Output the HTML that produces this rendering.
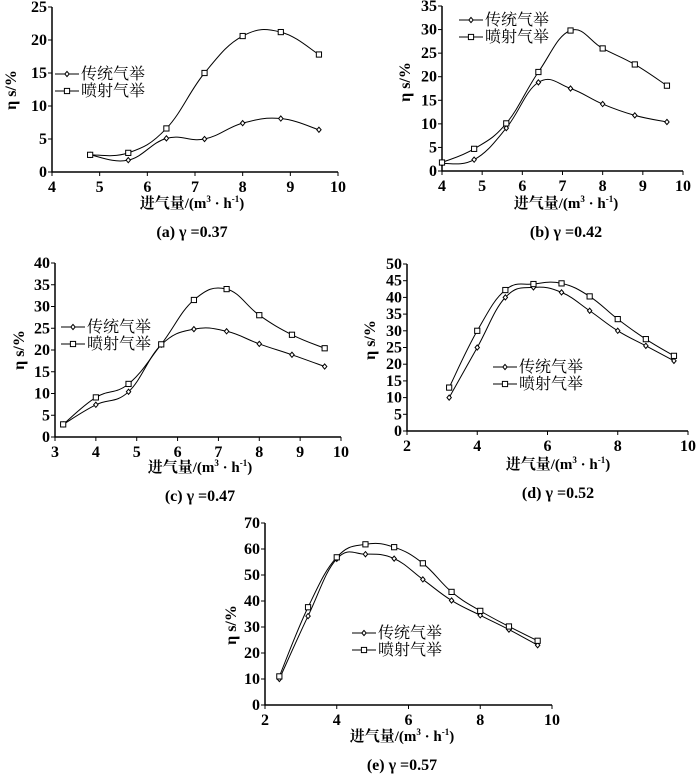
<!DOCTYPE html>
<html><head><meta charset="utf-8">
<style>
html,body{margin:0;padding:0;background:#fff;}
svg{display:block;}
.t{font-family:"Liberation Serif","Noto Serif CJK SC",serif;font-weight:bold;font-size:16px;fill:#000;}
.xt{font-family:"Liberation Serif","Noto Serif CJK SC",serif;font-weight:bold;font-size:15px;fill:#000;}
.lg{font-family:"Liberation Serif","Noto Serif CJK SC","Noto Sans CJK SC",serif;font-size:16px;fill:#000;}
</style></head>
<body>
<svg id="fig" width="700" height="774" viewBox="0 0 700 774" xmlns="http://www.w3.org/2000/svg"></svg>
<script>
// Chart (a)
const aX=[4.8,5.6,6.4,7.2,8,8.8,9.6];
const aTrad=[2.6,1.8,5.1,5.0,7.4,8.1,6.4];
const aJet=[2.6,2.9,6.6,15.0,20.6,21.2,17.8];
const aXTicks=[4,5,6,7,8,9,10];
const aYTicks=[0,5,10,15,20,25];
// Chart (b)
const bX=[4,4.8,5.6,6.4,7.2,8,8.8,9.6];
const bTrad=[1.6,2.4,9.1,18.8,17.5,14.2,11.8,10.4];
const bJet=[1.8,4.7,10.1,21.0,29.8,26.0,22.6,18.1];
const bXTicks=[4,5,6,7,8,9,10];
const bYTicks=[0,5,10,15,20,25,30,35];
// Chart (c)
const cX=[3.2,4,4.8,5.6,6.4,7.2,8,8.8,9.6];
const cTrad=[2.9,7.4,10.4,21.2,24.8,24.3,21.4,18.9,16.2];
const cJet=[2.9,9.1,12.2,21.3,31.5,34.0,28.0,23.5,20.4];
const cXTicks=[3,4,5,6,7,8,9,10];
const cYTicks=[0,5,10,15,20,25,30,35,40];
// Chart (d)
const dX=[3.2,4,4.8,5.6,6.4,7.2,8,8.8,9.6];
const dTrad=[10,25,40,43,41.5,36,30,25.5,21];
const dJet=[13,30,42.2,44,44.2,40.3,33.5,27.5,22.5];
const dXTicks=[2,4,6,8,10];
const dYTicks=[0,5,10,15,20,25,30,35,40,45,50];
// Chart (e)
const eX=[2.4,3.2,4,4.8,5.6,6.4,7.2,8,8.8,9.6];
const eTrad=[10,34.2,56.2,58,56.3,48.3,40.2,34.5,29,23];
const eJet=[11,37.6,56.8,61.8,60.7,54.5,43.5,36.2,30.2,24.7];
const eXTicks=[2,4,6,8,10];
const eYTicks=[0,10,20,30,40,50,60,70];

const NS="http://www.w3.org/2000/svg";
const svg=document.getElementById('fig');
function mk(tag,attrs,parent,text){const e=document.createElementNS(NS,tag);for(const k in attrs)e.setAttribute(k,attrs[k]);if(text!==undefined)e.textContent=text;(parent||svg).appendChild(e);return e;}

function smooth(pts){
  let d=`M${pts[0][0]},${pts[0][1]}`;
  for(let i=0;i<pts.length-1;i++){
    const p0=pts[Math.max(0,i-1)],p1=pts[i],p2=pts[i+1],p3=pts[Math.min(pts.length-1,i+2)];
    const t=0.2;
    const c1=[p1[0]+(p2[0]-p0[0])*t,p1[1]+(p2[1]-p0[1])*t];
    const c2=[p2[0]-(p3[0]-p1[0])*t,p2[1]-(p3[1]-p1[1])*t];
    d+=` C${c1[0]},${c1[1]} ${c2[0]},${c2[1]} ${p2[0]},${p2[1]}`;
  }
  return d;
}
function diamond(g,x,y){const e=mk('path',{d:`M${x},${y-2.6} L${x+2.2},${y} L${x},${y+2.6} L${x-2.2},${y} Z`,fill:'#fff',stroke:'#000','stroke-width':1},g);

}
function square(g,x,y){const e=mk('rect',{x:x-2.6,y:y-2.6,width:5.2,height:5.2,fill:'#fff',stroke:'#000','stroke-width':1},g);

}

function chart(cfg){
  const g=mk('g',{});
  
  
  const sx=v=>cfg.x0+(v-cfg.xmin)/(cfg.xmax-cfg.xmin)*(cfg.x1-cfg.x0);
  const sy=v=>cfg.y0-(v-cfg.ymin)/(cfg.ymax-cfg.ymin)*(cfg.y0-cfg.y1);
  const ax=mk('path',{d:`M${cfg.x0},${cfg.y1} L${cfg.x0},${cfg.y0} L${cfg.x1},${cfg.y0}`,fill:'none',stroke:'#000','stroke-width':1.5},g);
  
  
  cfg.xt.forEach(v=>{
    const x=sx(v);
    mk('line',{x1:x,y1:cfg.y0,x2:x,y2:cfg.y0+4,stroke:'#000','stroke-width':1},g);
    const t=mk('text',{x:x,y:cfg.y0+20,'text-anchor':'middle',class:'t'},g,String(v));
    
    
  });
  cfg.yt.forEach(v=>{
    const y=sy(v);
    mk('line',{x1:cfg.x0-4,y1:y,x2:cfg.x0,y2:y,stroke:'#000','stroke-width':1},g);
    const t=mk('text',{x:cfg.x0-5,y:y+5,'text-anchor':'end',class:'t'},g,String(v));
    
    
  });
  const series=[[cfg.trad,diamond,'trad-line'],[cfg.jet,square,'jet-line']];
  series.forEach(([vals,m,name])=>{
    const pts=cfg.xs.map((x,i)=>[sx(x),sy(vals[i])]);
    const p=mk('path',{d:smooth(pts),fill:'none',stroke:'#000','stroke-width':1},g);
    
    
    pts.forEach(pt=>m(g,pt[0],pt[1]));
  });
  const L=cfg.leg;
  [['传统气举',diamond,0],['喷射气举',square,17]].forEach(([lab,m,dy])=>{
    const lg=mk('g',{},g);
    
    
    mk('line',{x1:L[0],y1:L[1]+dy,x2:L[0]+24,y2:L[1]+dy,stroke:'#000','stroke-width':1},lg);
    m(lg,L[0]+12,L[1]+dy);
    mk('text',{x:L[0]+26,y:L[1]+dy+5,class:'lg'},lg,lab);
  });
  const yt=mk('text',{x:0,y:0,class:'t',transform:`translate(${cfg.yl[0]},${cfg.yl[1]}) rotate(-90)`,'text-anchor':'middle'},g,'η s/%');
  
  
  const xt=mk('text',{x:cfg.xl[0],y:cfg.xl[1],'text-anchor':'middle',class:'xt'},g);
  
  
  xt.innerHTML='进气量/(m<tspan font-size="9" dy="-6">3</tspan><tspan dy="6"> · h</tspan><tspan font-size="9" dy="-6">-1</tspan><tspan dy="6">)</tspan>';
  const cp=mk('text',{x:cfg.xl[0],y:cfg.xl[1]+29,'text-anchor':'middle',class:'t','font-size':'17'},g,cfg.cap);
  
  
}

chart({id:'a',xs:aX,trad:aTrad,jet:aJet,xt:aXTicks,yt:aYTicks,xmin:4,xmax:10,ymin:0,ymax:25,
  x0:52,x1:338,y0:172,y1:7,leg:[55,74],yl:[16,90],xl:[192,208],cap:'(a) γ =0.37'});
chart({id:'b',xs:bX,trad:bTrad,jet:bJet,xt:bXTicks,yt:bYTicks,xmin:4,xmax:10,ymin:0,ymax:35,
  x0:442,x1:683,y0:171,y1:6,leg:[459,20],yl:[410,82],xl:[566,208],cap:'(b) γ =0.42'});
chart({id:'c',xs:cX,trad:cTrad,jet:cJet,xt:cXTicks,yt:cYTicks,xmin:3,xmax:10,ymin:0,ymax:40,
  x0:55,x1:341,y0:437,y1:263,leg:[61,327],yl:[24,350],xl:[200,472],cap:'(c) γ =0.47'});
chart({id:'d',xs:dX,trad:dTrad,jet:dJet,xt:dXTicks,yt:dYTicks,xmin:2,xmax:10,ymin:0,ymax:50,
  x0:407,x1:688,y0:431,y1:264,leg:[493,367],yl:[375,340],xl:[558,469],cap:'(d) γ =0.52'});
chart({id:'e',xs:eX,trad:eTrad,jet:eJet,xt:eXTicks,yt:eYTicks,xmin:2,xmax:10,ymin:0,ymax:70,
  x0:265,x1:552,y0:705,y1:523,leg:[352,633],yl:[236,625],xl:[402,741],cap:'(e) γ =0.57'});
</script>
</body></html>
